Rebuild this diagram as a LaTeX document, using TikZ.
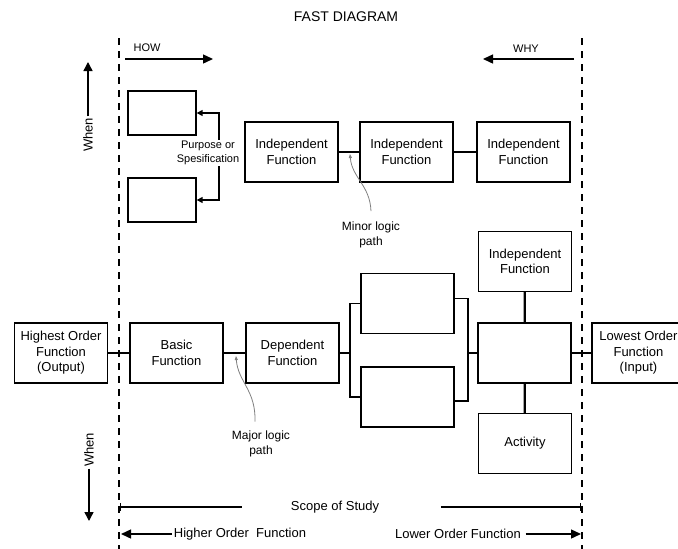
\documentclass[tikz,border=0pt]{standalone}
\usepackage{fontspec}
\setmainfont{Liberation Sans}
\usetikzlibrary{arrows.meta}

\begin{document}
\begin{tikzpicture}[x=1pt, y=-1pt, line width=1.4pt,
        fnbox/.style={draw, line width=1.3pt, minimum width=93pt, minimum height=60pt,
            align=center, inner sep=2pt, font=\fontsize{13}{15.5}\selectfont},
        emptybox/.style={fnbox, minimum width=68pt, minimum height=44pt},
        pathnote/.style={align=center, inner sep=1pt, font=\fontsize{12}{15}\selectfont},
        sidetxt/.style={inner sep=1pt, font=\fontsize{13}{15}\selectfont},
        dirtxt/.style={align=center, inner sep=1pt, font=\fontsize{11}{13.5}\selectfont},
        link/.style={line width=2.2pt},
        border/.style={line width=1.4pt, dash pattern=on 7pt off 6pt}]
        \clip (0,0) rectangle (678,549);

        % Title
        \node[font=\fontsize{14}{16}\selectfont] (title) at (346,17) {FAST DIAGRAM};

        % Scope borders
        \coordinate (Ltop) at (119,38);
        \coordinate (Lbot) at (119,549);
        \coordinate (Rtop) at (582,38);
        \coordinate (Rbot) at (582,549);
        \draw[border] (Ltop) -- (Lbot);
        \draw[border] (Rtop) -- (Rbot);

        % HOW and WHY
        \node[dirtxt] (how) at (147,48) {HOW};
        \coordinate (howA) at (125,59);
        \coordinate (howB) at (213,59);
        \draw[-{Triangle[length=10pt, width=9pt]}] (howA) -- (howB);
        \node[dirtxt] (why) at (526,49) {WHY};
        \coordinate (whyA) at (574,59);
        \coordinate (whyB) at (483,59);
        \draw[-{Triangle[length=10pt, width=9pt]}] (whyA) -- (whyB);

        % When arrows
        \node[sidetxt, rotate=90] (whenU) at (88,135) {When};
        \coordinate (whenUtip) at (88,62);
        \draw[-{Triangle[length=9pt, width=9pt]}] (whenU.east) -- (whenUtip);
        \node[sidetxt, rotate=90] (whenD) at (89,450) {When};
        \coordinate (whenDtip) at (89,521);
        \draw[-{Triangle[length=9pt, width=9pt]}] (whenD.west) -- (whenDtip);

        % Purpose or specification
        \node[emptybox] (pbox1) at (162,113) {};
        \node[emptybox] (pbox2) at (162,200) {};
        \coordinate (pJoin) at (219,200);
        \draw[{Triangle[length=6pt, width=6pt]}-{Triangle[length=6pt, width=6pt]}]
            (pbox1.east) -| (pJoin) -- (pbox2.east);
        \node[dirtxt, fill=white] (purp) at (208,153) {Purpose or\\Spesification};

        % Independent functions, top row
        \node[fnbox] (indA) at (291.5,152) {Independent\\Function};
        \node[fnbox] (indB) at (406.5,152) {Independent\\Function};
        \node[fnbox] (indC) at (523.5,152) {Independent\\Function};
        \draw[link] (indA) -- (indB);
        \draw[link] (indB) -- (indC);

        % Minor logic path
        \node[pathnote] (minor) at (371,235) {Minor logic\\path};
        \coordinate (minorTip) at (350,154);
        \draw[gray, line width=0.8pt, -{Triangle[length=4pt, width=3pt]}]
            ([yshift=9pt]minor.north) .. controls (370,185) and (352,178) .. (minorTip);

        % Major logic path
        \node[fnbox] (high) at (61,353) {Highest Order\\Function\\(Output)};
        \node[fnbox] (basic) at (176.5,353) {Basic\\Function};
        \node[fnbox] (dep) at (292.5,353) {Dependent\\Function};
        \node[fnbox] (midT) at (407.5,303.5) {};
        \node[fnbox] (midB) at (407.5,397) {};
        \node[fnbox] (ctr) at (524.5,353) {};
        \node[fnbox] (indD) at (525,261.5) {Independent\\Function};
        \node[fnbox] (act) at (525,443.5) {Activity};
        \node[fnbox] (low) at (638.5,353) {Lowest Order\\Function\\(Input)};
        \draw[link] (high) -- (basic);
        \draw[link] (basic) -- (dep);
        \coordinate (jL) at (350,353);
        \coordinate (jR) at (468,353);
        \draw[link] (dep) -- (jL);
        \draw (midT.west) -| (jL) |- (midB.west);
        \draw ([yshift=5pt]midT.east) -| (jR) |- ([yshift=-4pt]midB.east);
        \draw[link] (jR) -- (ctr);
        \draw[link] (indD) -- (ctr);
        \draw[link] (ctr) -- (act);
        \draw[link] (ctr) -- (low);

        \node[pathnote] (major) at (261,443.5) {Major logic\\path};
        \coordinate (majorTip) at (236,356);
        \draw[gray, line width=0.8pt, -{Triangle[length=4pt, width=3pt]}]
            ([xshift=-6pt, yshift=7pt]major.north) .. controls (256,390) and (238,382) .. (majorTip);

        % Scope of study
        \node[sidetxt] (scope) at (335,507) {Scope of Study};
        \coordinate (scL) at (120,507);
        \coordinate (scR) at (581,507);
        \draw[{Bar[width=8pt]}-] (scL) -- ([xshift=-47pt]scope.west);
        \draw[-{Bar[width=8pt]}] ([xshift=60pt]scope.east) -- (scR);

        % Higher and lower order
        \node[sidetxt] (higher) at (240,534) {Higher Order\ \ Function};
        \coordinate (hoTip) at (121,534);
        \draw[-{Triangle[length=10pt, width=9pt]}] (higher.west) -- (hoTip);
        \node[sidetxt] (lower) at (458,534) {Lower Order Function};
        \coordinate (loTip) at (581,534);
        \draw[-{Triangle[length=10pt, width=9pt]}] ([xshift=3pt]lower.east) -- (loTip);
\end{tikzpicture}
\end{document}
